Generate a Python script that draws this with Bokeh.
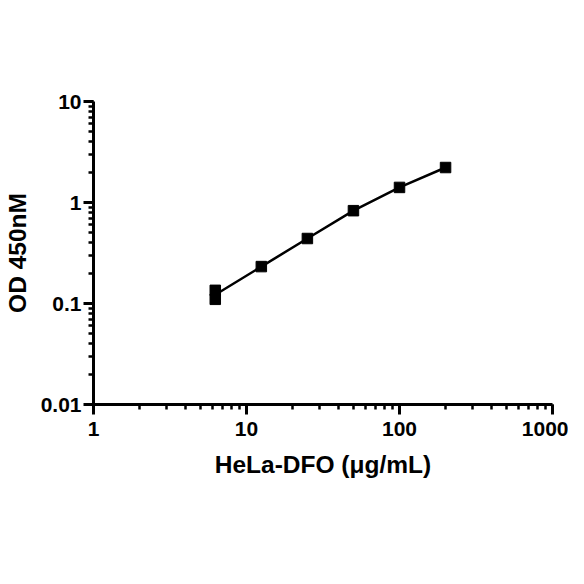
from bokeh.plotting import figure
from bokeh.models import Range1d, CustomJSTickFormatter
from bokeh.embed import file_html
from bokeh.resources import INLINE

# data
conc = [6.25, 6.25, 12.5, 25, 50, 100, 200]
od = [0.135, 0.11, 0.232, 0.44, 0.83, 1.41, 2.22]
fit_conc = [6.25, 12.5, 25, 50, 100, 200]
fit_od = [0.122, 0.232, 0.44, 0.83, 1.41, 2.22]

x_title = "HeLa-DFO (μg/mL)"
y_title = "OD 450nM"

p = figure(width=568, height=568, x_axis_type="log", y_axis_type="log",
           x_range=Range1d(1, 1000), y_range=Range1d(0.01, 10),
           output_backend="svg", toolbar_location=None,
           min_border_left=90, min_border_top=101, min_border_right=16, min_border_bottom=164)

p.outline_line_color = None
p.xgrid.visible = False
p.ygrid.visible = False

p.line(fit_conc, fit_od, line_color="black", line_width=2.5)
p.scatter(conc, od, marker="square", size=10.5, color="black")

fmt = CustomJSTickFormatter(code="return Number(tick.toPrecision(3)).toString();")
for ax in (p.xaxis[0], p.yaxis[0]):
    ax.formatter = fmt
    ax.axis_line_width = 3
    ax.axis_line_color = "black"
    ax.major_tick_line_width = 3
    ax.minor_tick_line_width = 2.5
    ax.major_tick_in = 0
    ax.major_tick_out = 10
    ax.minor_tick_in = 0
    ax.minor_tick_out = 5
    ax.major_label_text_font = "Liberation Sans"
    ax.major_label_text_font_style = "bold"
    ax.major_label_text_font_size = "21px"
    ax.major_label_text_color = "black"
    ax.axis_label_text_font = "Liberation Sans"
    ax.axis_label_text_font_style = "bold"
    ax.axis_label_text_font_size = "24.5px"
    ax.axis_label_text_color = "black"

p.xaxis.axis_label = x_title
p.yaxis.axis_label = y_title
p.xaxis.major_label_standoff = 7
p.yaxis.major_label_standoff = 2
p.xaxis.axis_label_standoff = 12
p.yaxis.axis_label_standoff = 7

open("out.html", "w").write(file_html(p, INLINE))
